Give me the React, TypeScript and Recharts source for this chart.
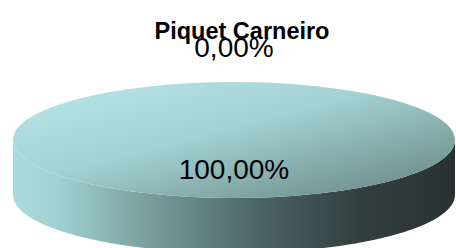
import { PieChart, Pie, Cell } from 'recharts'

const TITLE = 'Piquet Carneiro'
const CATEGORIES = ['Não', 'Sim']
const VALUES = [0, 100]

const W = 456
const H = 248
const CX = 234
const CY = 140
const RX = 221
const RY = 58
const DEPTH = 55

const fmtPct = (p: number) =>
  (p * 100).toLocaleString('pt-BR', { minimumFractionDigits: 2, maximumFractionDigits: 2 }) + '%'

const pt = (cx: number, cy: number, a: number) => {
  const r = (a * Math.PI) / 180
  return [cx + RX * Math.cos(r), cy - RY * Math.sin(r)]
}

// elliptical "3d" slice: side band on the visible front, then top face
const Slice3D = (props: any) => {
  const { cx, cy, startAngle, endAngle, index } = props
  const span = Math.abs(startAngle - endAngle)
  if (span <= 0) return <g />

  const hi = Math.min(startAngle, 0)
  const lo = Math.max(endAngle, -180)
  let side = null
  if (lo < hi) {
    const [x1, y1] = pt(cx, cy, hi)
    const [x2, y2] = pt(cx, cy, lo)
    const d = `M${x1},${y1} L${x1},${y1 + DEPTH} A${RX},${RY} 0 0 1 ${x2},${y2 + DEPTH} L${x2},${y2} A${RX},${RY} 0 0 0 ${x1},${y1} Z`
    side = <path d={d} fill={`url(#side-${index})`} />
  }

  let top
  if (span >= 359.99) {
    top = <ellipse cx={cx} cy={cy} rx={RX} ry={RY} fill={`url(#top-${index})`} />
  } else {
    const [sx, sy] = pt(cx, cy, startAngle)
    const [ex, ey] = pt(cx, cy, endAngle)
    const large = span > 180 ? 1 : 0
    top = <path d={`M${cx},${cy} L${sx},${sy} A${RX},${RY} 0 ${large} 1 ${ex},${ey} Z`} fill={`url(#top-${index})`} />
  }

  return (
    <g>
      <defs>
        <linearGradient id={`side-${index}`} x1="0" y1="0" x2="1" y2="0">
          <stop offset="0" stopColor="#aadbdb" />
          <stop offset="0.1" stopColor="#a2d1d1" />
          <stop offset="0.3" stopColor="#7b9f9f" />
          <stop offset="0.55" stopColor="#4d6565" />
          <stop offset="0.78" stopColor="#333f3f" />
          <stop offset="1" stopColor="#293232" />
        </linearGradient>
        <linearGradient id={`top-${index}`} x1="0" y1="0" x2="1" y2="1">
          <stop offset="0" stopColor="#bae8ea" />
          <stop offset="0.45" stopColor="#a3d0d1" />
          <stop offset="1" stopColor="#63807f" />
        </linearGradient>
      </defs>
      {side}
      {top}
    </g>
  )
}

const renderLabel = (props: any) => {
  const { cx, cy, midAngle, percent, index } = props
  let x = cx
  let y = cy + RY * 0.5
  if (percent < 0.5) {
    const r = (midAngle * Math.PI) / 180
    x = cx + (RX + 35) * Math.cos(r)
    y = cy - (RY + 35) * Math.sin(r)
  }
  return (
    <text key={`lbl-${index}`} x={x} y={y} textAnchor="middle" dominantBaseline="central"
      fill="#000" fontSize={28} fontFamily="'Liberation Sans', Arial, sans-serif">
      {fmtPct(percent)}
    </text>
  )
}

export default function App() {
  const data = CATEGORIES.map((name, i) => ({ name, value: VALUES[i] }))

  return (
    <div style={{ position: 'absolute', left: 0, top: 0, width: W, height: H, background: '#fff', overflow: 'hidden' }}>
      <PieChart width={W} height={H} margin={{ top: 0, right: 0, bottom: 0, left: 0 }}>
        <Pie
          data={data}
          dataKey="value"
          nameKey="name"
          cx={CX}
          cy={CY}
          outerRadius={RX}
          startAngle={90}
          endAngle={-270}
          stroke="none"
          label={renderLabel}
          labelLine={false}
          shape={Slice3D}
          inactiveShape={Slice3D}
          activeShape={Slice3D}
          isAnimationActive={false}
        >
          {data.map((d, i) => <Cell key={d.name} fill={i ? '#a3d0d1' : '#ffffff'} />)}
        </Pie>
      </PieChart>
      <div style={{
        position: 'absolute', left: 0, top: 19, width: 484, textAlign: 'center',
        fontFamily: "'Liberation Sans', Arial, sans-serif", fontWeight: 'bold',
        fontSize: 23.5, lineHeight: '24px', color: '#000', pointerEvents: 'none',
      }}>
        {TITLE}
      </div>
    </div>
  )
}
